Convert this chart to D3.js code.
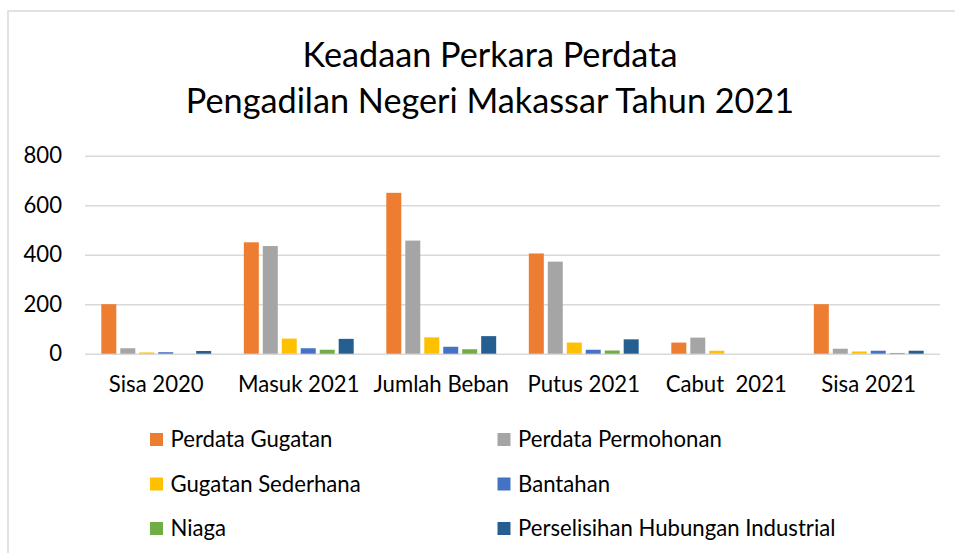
<!DOCTYPE html>
<html>
<head>
<meta charset="utf-8">
<script src="https://cdn.jsdelivr.net/npm/d3@7/dist/d3.min.js"></script>
<style>
  html, body { margin: 0; padding: 0; background: #fff; }
  svg { display: block; }
</style>
</head>
<body>
<svg id="chart" width="955" height="553"></svg>
<script>
// ---- data ----
const categories = ["Sisa 2020", "Masuk 2021", "Jumlah Beban", "Putus 2021", "Cabut  2021", "Sisa 2021"];
const seriesNames = ["Perdata Gugatan", "Perdata Permohonan", "Gugatan Sederhana", "Bantahan", "Niaga", "Perselisihan Hubungan Industrial"];
const perdataGugatan    = [200, 450, 650, 405, 45, 200];
const perdataPermohonan = [22, 435, 457, 372, 65, 20];
const gugatanSederhana  = [5, 61, 66, 45, 12, 9];
const bantahan          = [6, 22, 28, 16, 0, 12];
const niaga             = [0, 16, 18, 13, 0, 3];
const perselisihanHI    = [11, 60, 71, 58, 0, 12];
const yTicks = [0, 200, 400, 600, 800];
const titleLines = ["Keadaan Perkara Perdata", "Pengadilan Negeri Makassar Tahun 2021"];

const seriesValues = [perdataGugatan, perdataPermohonan, gugatanSederhana, bantahan, niaga, perselisihanHI];
const colors = ["#ED7D31", "#A5A5A5", "#FFC000", "#4472C4", "#70AD47", "#255E91"];

const FONT = "Lato, 'Open Sans', sans-serif";
const svg = d3.select("#chart");

// helper: font size that makes a string reach a target width
function fitSize(str, target) {
  const t = svg.append("text").attr("font-family", FONT).attr("font-size", 100).text(str);
  const w = t.node().getComputedTextLength();
  t.remove();
  return 100 * target / w;
}
const labelSize = fitSize("Perdata Gugatan", 162);
const titleSize = fitSize(titleLines[0], 375);

// background + chart border
svg.append("rect").attr("width", 955).attr("height", 553).attr("fill", "#fff");
svg.append("rect").attr("x", 8).attr("y", 11).attr("width", 980).attr("height", 600)
  .attr("fill", "none").attr("stroke", "#d9d9d9").attr("stroke-width", 1.5);

// title
svg.append("g").selectAll("text").data(titleLines).join("text")
  .attr("x", 490).attr("y", (d, i) => 67 + i * 46)
  .attr("text-anchor", "middle").attr("font-family", FONT)
  .attr("font-size", titleSize).attr("fill", "#000").text(d => d);

// scales
const plotLeft = 85, plotRight = 940, plotTop = 155.7, plotBottom = 353.7;
const y = d3.scaleLinear().domain([0, 800]).range([plotBottom, plotTop]);
const x0 = d3.scaleBand().domain(categories).range([plotLeft, plotRight]).padding(0);
const x1 = d3.scaleBand().domain(seriesNames).range([0, x0.bandwidth()])
  .paddingInner(0.21).paddingOuter(0.86);

// gridlines
const grid = svg.append("g").attr("transform", `translate(${plotLeft},0)`)
  .call(d3.axisLeft(y).tickValues(yTicks).tickSize(-(plotRight - plotLeft)).tickFormat(""));
grid.select(".domain").remove();
grid.selectAll("line").attr("stroke", "#d9d9d9").attr("stroke-width", 1.5);

// y labels
const yAxis = svg.append("g").attr("transform", `translate(${plotLeft},0)`)
  .call(d3.axisLeft(y).tickValues(yTicks).tickSize(0).tickPadding(23));
yAxis.select(".domain").remove();
yAxis.selectAll("text").attr("font-family", FONT).attr("font-size", labelSize).attr("fill", "#000");

// bars
const groups = svg.append("g").selectAll("g").data(categories).join("g")
  .attr("transform", d => `translate(${x0(d)},0)`);
groups.selectAll("rect")
  .data((c, ci) => seriesNames.map((s, si) => ({ s, si, v: seriesValues[si][ci] })))
  .join("rect")
  .attr("x", d => x1(d.s))
  .attr("width", x1.bandwidth())
  .attr("y", d => y(d.v))
  .attr("height", d => y(0) - y(d.v))
  .attr("fill", d => colors[d.si]);

// x labels
const xAxis = svg.append("g").attr("transform", `translate(0,${plotBottom})`)
  .call(d3.axisBottom(x0).tickSize(0).tickPadding(23));
xAxis.select(".domain").remove();
xAxis.selectAll("text").attr("font-family", FONT).attr("font-size", labelSize).attr("fill", "#000")
  .style("white-space", "pre");

// legend
const legX = [150, 497.5], legY = [439.5, 484, 528.5];
const leg = svg.append("g").selectAll("g").data(seriesNames).join("g")
  .attr("transform", (d, i) => `translate(${legX[i % 2]},${legY[Math.floor(i / 2)]})`);
leg.append("rect").attr("x", 0).attr("y", -6.5).attr("width", 13).attr("height", 13)
  .attr("fill", (d, i) => colors[i]);
leg.append("text").attr("x", 20.5).attr("dy", "0.35em")
  .attr("font-family", FONT).attr("font-size", labelSize).attr("fill", "#000").text(d => d);
</script>
</body>
</html>
